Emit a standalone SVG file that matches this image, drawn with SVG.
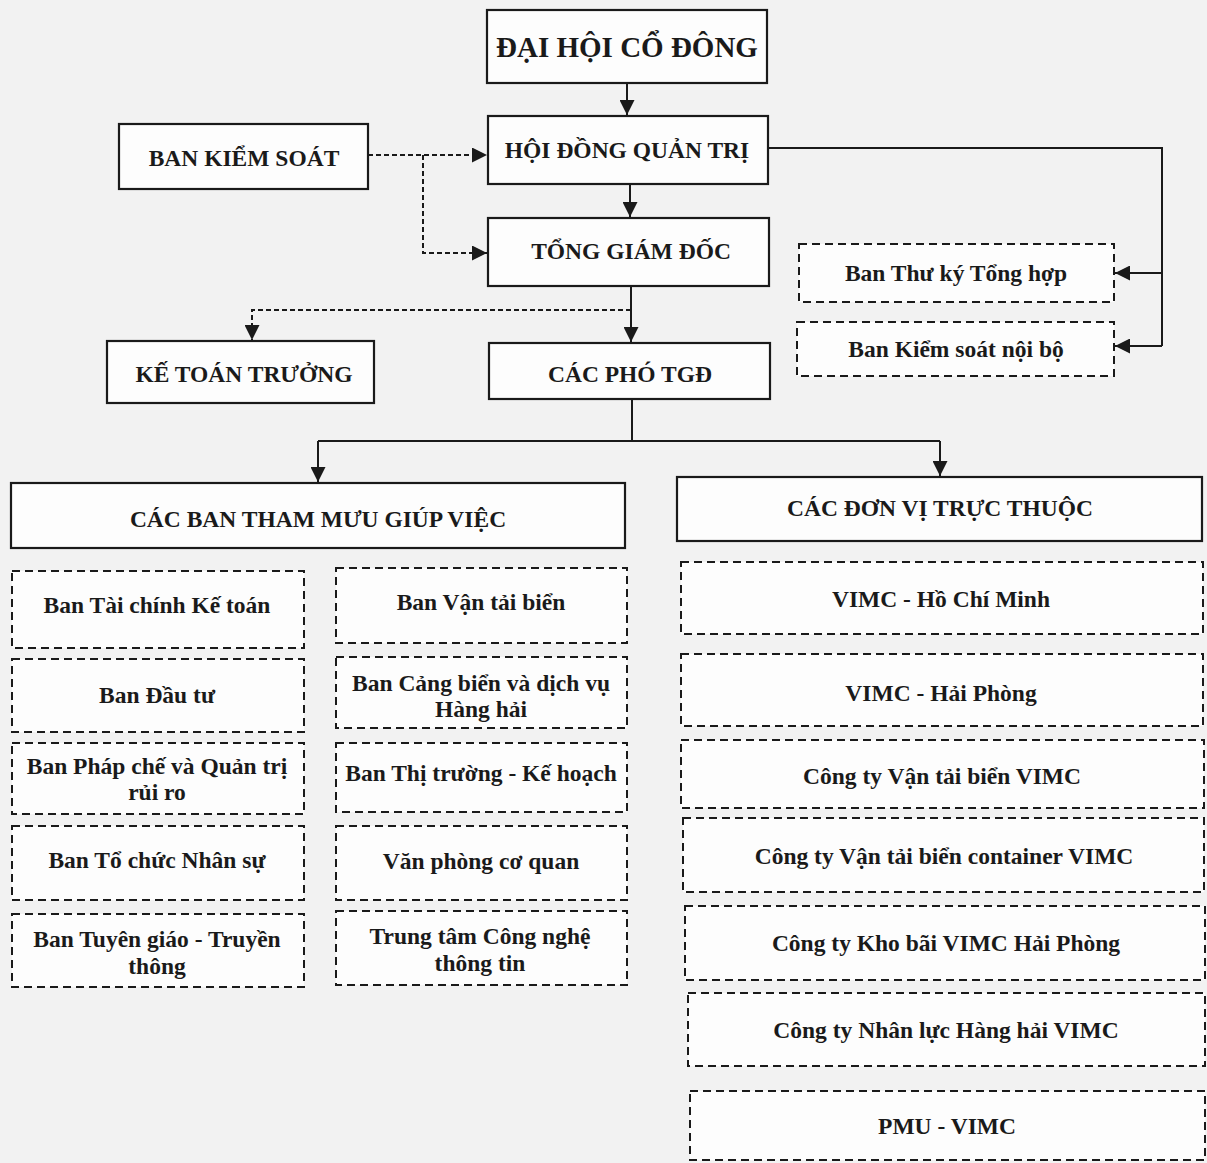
<svg xmlns="http://www.w3.org/2000/svg" width="1207" height="1163" viewBox="0 0 1207 1163">
<style>
text{font-family:"Liberation Serif","Times New Roman",serif;font-weight:bold;fill:#1a1a1a;text-anchor:middle;dominant-baseline:central}
.solid{fill:#fdfdfd;stroke:#1a1a1a;stroke-width:2.2}
.dash{fill:#fdfdfd;stroke:#1a1a1a;stroke-width:2;stroke-dasharray:8 5}
.h{font-size:23.5px}
.t{font-size:23.5px}
.ln{fill:none;stroke:#1a1a1a;stroke-width:2}
.dl{fill:none;stroke:#1a1a1a;stroke-width:2;stroke-dasharray:5 3}
</style>
<defs>
<marker id="ar" viewBox="0 0 10 10" refX="10" refY="5" markerWidth="15" markerHeight="15" markerUnits="userSpaceOnUse" orient="auto">
<path d="M0,0 L10,5 L0,10 z" fill="#1a1a1a"/>
</marker>
</defs>
<rect width="1207" height="1163" fill="#f2f2f2"/>
<g id="connectors">
<path class="ln" d="M627,83 V115" marker-end="url(#ar)"/>
<path class="ln" d="M630,184 V217" marker-end="url(#ar)"/>
<path class="dl" d="M368,155 H487" marker-end="url(#ar)"/>
<path class="dl" d="M423,155 V253 H487" marker-end="url(#ar)"/>
<path class="ln" d="M631,286 V342" marker-end="url(#ar)"/>
<path class="dl" d="M631,310 H252 V340" marker-end="url(#ar)"/>
<path class="ln" d="M768,148 H1162 V346"/>
<path class="ln" d="M1162,273 H1115" marker-end="url(#ar)"/>
<path class="ln" d="M1162,346 H1115" marker-end="url(#ar)"/>
<path class="ln" d="M632,399 V441"/>
<path class="ln" d="M318,441 H940"/>
<path class="ln" d="M318,441 V482" marker-end="url(#ar)"/>
<path class="ln" d="M940,441 V476" marker-end="url(#ar)"/>
</g>
<g id="dhcd"><rect class="solid" x="487" y="10" width="280" height="73"/><text x="627" y="47" style="font-size:29px">ĐẠI HỘI CỔ ĐÔNG</text></g>
<g id="hdqt"><rect class="solid" x="488" y="116" width="280" height="68"/><text class="h" x="627" y="150">HỘI ĐỒNG QUẢN TRỊ</text></g>
<g id="bks"><rect class="solid" x="119" y="124" width="249" height="65"/><text class="h" x="244" y="158">BAN KIỂM SOÁT</text></g>
<g id="tgd"><rect class="solid" x="488" y="218" width="281" height="68"/><text class="h" x="631" y="251">TỔNG GIÁM ĐỐC</text></g>
<g id="ktt"><rect class="solid" x="107" y="341" width="267" height="62"/><text class="h" x="244" y="374">KẾ TOÁN TRƯỞNG</text></g>
<g id="pho-tgd"><rect class="solid" x="489" y="343" width="281" height="56"/><text class="h" x="630" y="374">CÁC PHÓ TGĐ</text></g>
<g id="thu-ky"><rect class="dash" x="799" y="244" width="315" height="58"/><text class="t" x="956" y="273">Ban Thư ký Tổng hợp</text></g>
<g id="ksnb"><rect class="dash" x="797" y="322" width="317" height="54"/><text class="t" x="956" y="349">Ban Kiểm soát nội bộ</text></g>
<g id="tham-muu"><rect class="solid" x="11" y="483" width="614" height="65"/><text class="h" x="318" y="519">CÁC BAN THAM MƯU GIÚP VIỆC</text></g>
<g id="don-vi"><rect class="solid" x="677" y="477" width="525" height="64"/><text class="h" x="940" y="508">CÁC ĐƠN VỊ TRỰC THUỘC</text></g>
<g id="tckt"><rect class="dash" x="12" y="571" width="292" height="77"/><text class="t" x="157" y="605">Ban Tài chính Kế toán</text></g>
<g id="dautu"><rect class="dash" x="12" y="659" width="292" height="73"/><text class="t" x="157" y="695">Ban Đầu tư</text></g>
<g id="phapche"><rect class="dash" x="12" y="743" width="292" height="71"/><text class="t" x="157" y="766">Ban Pháp chế và Quản trị</text><text class="t" x="157" y="792">rủi ro</text></g>
<g id="tcns"><rect class="dash" x="12" y="826" width="292" height="74"/><text class="t" x="157" y="860">Ban Tổ chức Nhân sự</text></g>
<g id="tuyengiao"><rect class="dash" x="12" y="914" width="292" height="73"/><text class="t" x="157" y="939">Ban Tuyên giáo - Truyền</text><text class="t" x="157" y="966">thông</text></g>
<g id="vantai"><rect class="dash" x="336" y="568" width="291" height="75"/><text class="t" x="481" y="602">Ban Vận tải biển</text></g>
<g id="cangbien"><rect class="dash" x="336" y="657" width="291" height="71"/><text class="t" x="481" y="683">Ban Cảng biển và dịch vụ</text><text class="t" x="481" y="709">Hàng hải</text></g>
<g id="thitruong"><rect class="dash" x="336" y="743" width="291" height="69"/><text class="t" x="481" y="773">Ban Thị trường - Kế hoạch</text></g>
<g id="vanphong"><rect class="dash" x="336" y="826" width="291" height="74"/><text class="t" x="481" y="861">Văn phòng cơ quan</text></g>
<g id="cntt"><rect class="dash" x="336" y="911" width="291" height="74"/><text class="t" x="480" y="936">Trung tâm Công nghệ</text><text class="t" x="480" y="963">thông tin</text></g>
<g id="hcm"><rect class="dash" x="681" y="562" width="522" height="72"/><text class="t" x="941" y="599">VIMC - Hồ Chí Minh</text></g>
<g id="hp"><rect class="dash" x="681" y="654" width="522" height="72"/><text class="t" x="941" y="693">VIMC - Hải Phòng</text></g>
<g id="vtb"><rect class="dash" x="681" y="740" width="523" height="68"/><text class="t" x="942" y="776">Công ty Vận tải biển VIMC</text></g>
<g id="container"><rect class="dash" x="683" y="818" width="521" height="74"/><text class="t" x="944" y="856">Công ty Vận tải biển container VIMC</text></g>
<g id="khobai"><rect class="dash" x="685" y="906" width="520" height="74"/><text class="t" x="946" y="943">Công ty Kho bãi VIMC Hải Phòng</text></g>
<g id="nhanluc"><rect class="dash" x="688" y="993" width="517" height="73"/><text class="t" x="946" y="1030">Công ty Nhân lực Hàng hải VIMC</text></g>
<g id="pmu"><rect class="dash" x="690" y="1091" width="515" height="69"/><text class="t" x="947" y="1126">PMU - VIMC</text></g>
</svg>
